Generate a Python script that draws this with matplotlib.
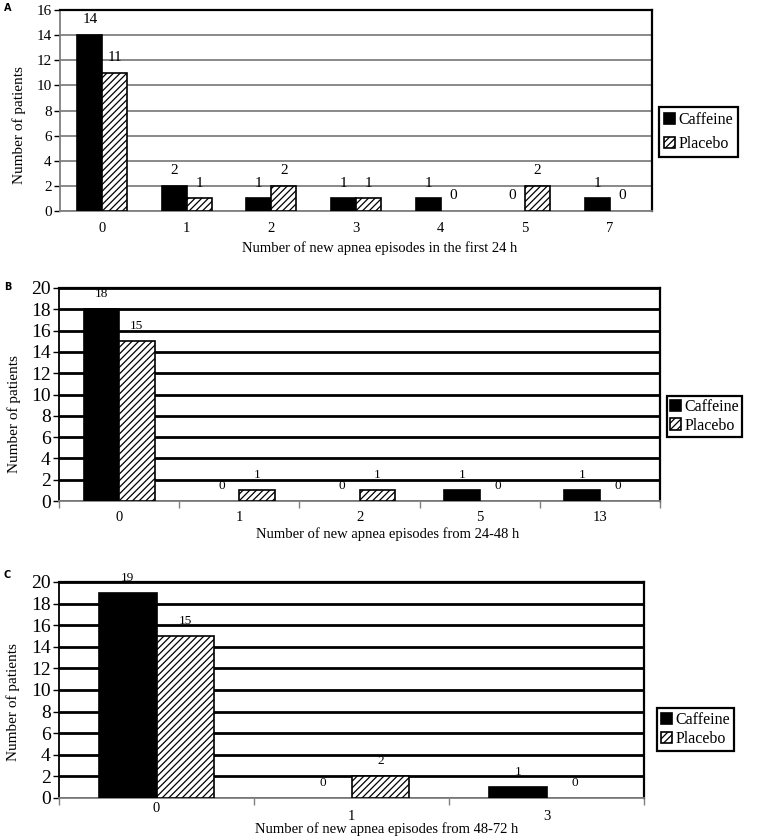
import numpy as np
import matplotlib
matplotlib.use('Agg')
from matplotlib import pyplot as plt
from matplotlib.transforms import ScaledTranslation

plt.rcParams['font.family'] = ['Liberation Serif', 'DejaVu Serif']
plt.rcParams['hatch.linewidth'] = 0.9

# panel A: first 24 h
cats_a = ['0', '1', '2', '3', '4', '5', '7']
caff_a = [14, 2, 1, 1, 1, 0, 1]
plac_a = [11, 1, 2, 1, 0, 2, 0]

# panel B: 24-48 h
cats_b = ['0', '1', '2', '5', '13']
caff_b = [18, 0, 0, 1, 1]
plac_b = [15, 1, 1, 0, 0]

# panel C: 48-72 h
cats_c = ['0', '1', '3']
caff_c = [19, 0, 1]
plac_c = [15, 2, 0]

W, H = 759, 839
fig = plt.figure(figsize=(W / 100, H / 100), dpi=100)


def px_axes(left, top, right, bottom):
    return fig.add_axes([left / W, 1 - bottom / H, (right - left) / W, (bottom - top) / H])


def draw_panel(ax, cats, caff, plac, ymax, xlabel, grid_color, grid_lw, tick_fs,
               val_fs, xlab_xy, ylab_xy, tick_pad, boundary_ticks, legend_xy,
               leg_fs, leg_space, leg_pad, letter):
    x = np.arange(len(cats))
    w = 0.295
    b1 = ax.bar(x - w / 2, caff, w, color='black', edgecolor='black', linewidth=1.2,
                label='Caffeine', zorder=3)
    b2 = ax.bar(x + w / 2, plac, w, color='white', edgecolor='black', linewidth=1.2,
                hatch='/////', label='Placebo', zorder=3)
    for p in list(b1) + list(b2):
        if p.get_height() == 0:
            p.set_linewidth(0)
    for bars, vals in ((b1, caff), (b2, plac)):
        for p, v in zip(bars, vals):
            ax.annotate(str(v), (p.get_x() + p.get_width() / 2, v), xytext=(0, 11),
                        textcoords='offset points', ha='center', va='center',
                        fontsize=val_fs)

    ax.set_xlim(-0.5, len(cats) - 0.5)
    ax.set_ylim(0, ymax)
    ax.set_yticks(np.arange(0, ymax + 1, 2))
    ax.yaxis.grid(True, color=grid_color, linewidth=grid_lw)
    ax.set_axisbelow(True)
    ax.tick_params(axis='y', labelsize=tick_fs, length=4, width=1, pad=2)

    if boundary_ticks:
        ax.set_xticks(np.arange(-0.5, len(cats), 1.0))
        ax.set_xticklabels([])
        ax.set_xticks(x, minor=True)
        ax.set_xticklabels(cats, minor=True)
        ax.tick_params(axis='x', which='major', length=5, width=1, color='#808080')
        ax.tick_params(axis='x', which='minor', length=0, labelsize=10.5, pad=tick_pad)
    else:
        ax.set_xticks(x)
        ax.set_xticklabels(cats)
        ax.tick_params(axis='x', length=0, labelsize=10.5, pad=tick_pad)

    for s in ('top', 'right'):
        ax.spines[s].set_color('black')
        ax.spines[s].set_linewidth(1.6)
    ax.spines['left'].set_color(grid_color)
    ax.spines['left'].set_linewidth(1.3)
    ax.spines['bottom'].set_color('#808080')
    ax.spines['bottom'].set_linewidth(1.3)

    ax.set_ylabel('Number of patients', fontsize=11)
    ax.yaxis.set_label_coords(*ylab_xy)
    ax.set_xlabel(xlabel, fontsize=10.5)
    ax.xaxis.set_label_coords(*xlab_xy)

    leg = ax.legend(loc='upper left', bbox_to_anchor=(legend_xy[0] / W, 1 - legend_xy[1] / H),
                    bbox_transform=fig.transFigure, fontsize=leg_fs, frameon=True,
                    fancybox=False, edgecolor='black', framealpha=1,
                    handlelength=0.7, handleheight=0.7, handletextpad=0.2,
                    borderpad=leg_pad, labelspacing=leg_space, borderaxespad=0)
    leg.get_frame().set_linewidth(1.6)

    fig.text(letter[0] / W, 1 - letter[1] / H, letter[2], fontsize=7, fontweight='bold',
             family='DejaVu Sans', ha='left', va='center')


ax_a = px_axes(60, 10, 652, 211)
draw_panel(ax_a, cats_a, caff_a, plac_a, 16,
           'Number of new apnea episodes in the first 24 h',
           '#808080', 1.3, 11, 11, (0.54, -0.15), (-0.058, 0.428), 8, False, (659, 107),
           11.5, 0.5, 0.3, (4, 8, 'A'))

ax_b = px_axes(59, 288, 660, 501)
draw_panel(ax_b, cats_b, caff_b, plac_b, 20,
           'Number of new apnea episodes from 24-48 h',
           'black', 2.0, 14, 9.5, (0.546, -0.125), (-0.063, 0.408), 7, True, (667, 396),
           11.5, 0.15, 0.2, (4, 287, 'B'))

ax_c = px_axes(59, 582, 644, 798)
draw_panel(ax_c, cats_c, caff_c, plac_c, 20,
           'Number of new apnea episodes from 48-72 h',
           'black', 2.0, 14, 9.5, (0.56, -0.113), (-0.066, 0.442), 9, True, (657, 708),
           11.5, 0.2, 0.25, (4, 575, 'C'))

# in C the first category label sits higher than the others
lab0 = ax_c.xaxis.get_minorticklabels()[0]
lab0.set_transform(lab0.get_transform() + ScaledTranslation(0, 0.08, fig.dpi_scale_trans))

fig.savefig('out.png', dpi=100)
